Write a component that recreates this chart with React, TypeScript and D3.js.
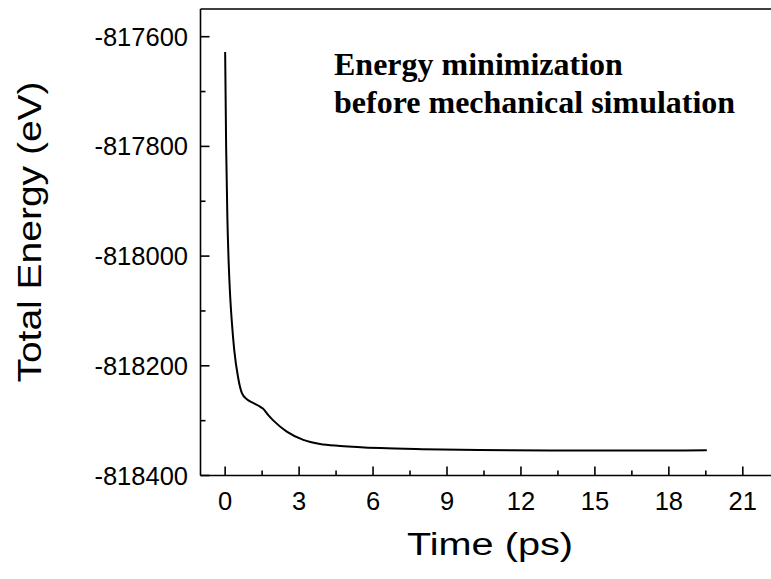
import React from "react";
import * as d3 from "d3";

const time = [0, 0.04, 0.09, 0.15, 0.2, 0.28, 0.37, 0.52, 0.68, 0.88, 1.15, 1.4, 1.53, 1.75, 1.96, 2.5, 3.17, 3.85, 4.67, 6.3, 8, 10.3, 14, 17, 19.54];
const energy = [-817628, -817800, -817930, -818020, -818070, -818125, -818172, -818220, -818250, -818261, -818268, -818274, -818278, -818290, -818300, -818320, -818335, -818342.5, -818346, -818350, -818352, -818353.5, -818354.5, -818354.5, -818354];
const xTicks = [0, 3, 6, 9, 12, 15, 18, 21];
const xMinor = [1.5, 4.5, 7.5, 10.5, 13.5, 16.5, 19.5];
const yTicks = [-817600, -817800, -818000, -818200, -818400];
const yMinor = [-817700, -817900, -818100, -818300];
const annotation = ["Energy minimization", "before mechanical simulation"];

export default function App() {
  const W = 771, H = 579;
  const left = 200.5, top = 9, bottom = 475.5;
  const x = d3.scaleLinear().domain([-1, 22.5]).range([left, left + 23.5 * 24.65]);
  const y = d3.scaleLinear().domain([-818400, -817550]).range([bottom, bottom - 850 * 0.5485]);
  const line = d3.line<number>().x((_, i) => x(time[i])).y((d) => y(d)).curve(d3.curveMonotoneX);
  const sans = "'Liberation Sans', Arial, sans-serif";
  const serif = "'Liberation Serif', 'Times New Roman', serif";
  return (
    <svg width={W} height={H} style={{ position: "absolute", left: 0, top: 0, background: "#fff" }}>
      <rect width={W} height={H} fill="#fff" />
      <path d={line(energy) || ""} fill="none" stroke="#000" strokeWidth={2} strokeLinejoin="round" />
      <line x1={left} x2={W + 5} y1={top} y2={top} stroke="#000" strokeWidth={1.6} />
      <line x1={left} x2={W + 5} y1={bottom} y2={bottom} stroke="#000" strokeWidth={1.6} />
      <line x1={left} x2={left} y1={top} y2={bottom} stroke="#000" strokeWidth={1.6} />
      {xTicks.map((t) => (
        <g key={"xt" + t}>
          <line x1={x(t)} x2={x(t)} y1={bottom} y2={bottom - 9} stroke="#000" strokeWidth={1.6} />
          <text x={x(t)} y={510} textAnchor="middle" fontFamily={sans} fontSize={25.5}>{t}</text>
        </g>
      ))}
      {xMinor.map((t) => (
        <line key={"xm" + t} x1={x(t)} x2={x(t)} y1={bottom} y2={bottom - 5} stroke="#000" strokeWidth={1.6} />
      ))}
      {yTicks.map((t) => (
        <g key={"yt" + t}>
          <line x1={left} x2={left + 9} y1={y(t)} y2={y(t)} stroke="#000" strokeWidth={1.6} />
          <text x={188} y={y(t) + 9} textAnchor="end" fontFamily={sans} fontSize={25.5}>{t}</text>
        </g>
      ))}
      {yMinor.map((t) => (
        <line key={"ym" + t} x1={left} x2={left + 5} y1={y(t)} y2={y(t)} stroke="#000" strokeWidth={1.6} />
      ))}
      <text transform="translate(490, 555) scale(1.28, 1)" textAnchor="middle" fontFamily={sans} fontSize={31}>Time (ps)</text>
      <text transform={`translate(41, 232) rotate(-90) scale(1.2, 1)`} textAnchor="middle" fontFamily={sans} fontSize={32.5}>Total Energy (eV)</text>
      {annotation.map((s, i) => (
        <text key={s} x={334} y={75 + i * 38} fontFamily={serif} fontWeight="bold" fontSize={32}>{s}</text>
      ))}
    </svg>
  );
}
